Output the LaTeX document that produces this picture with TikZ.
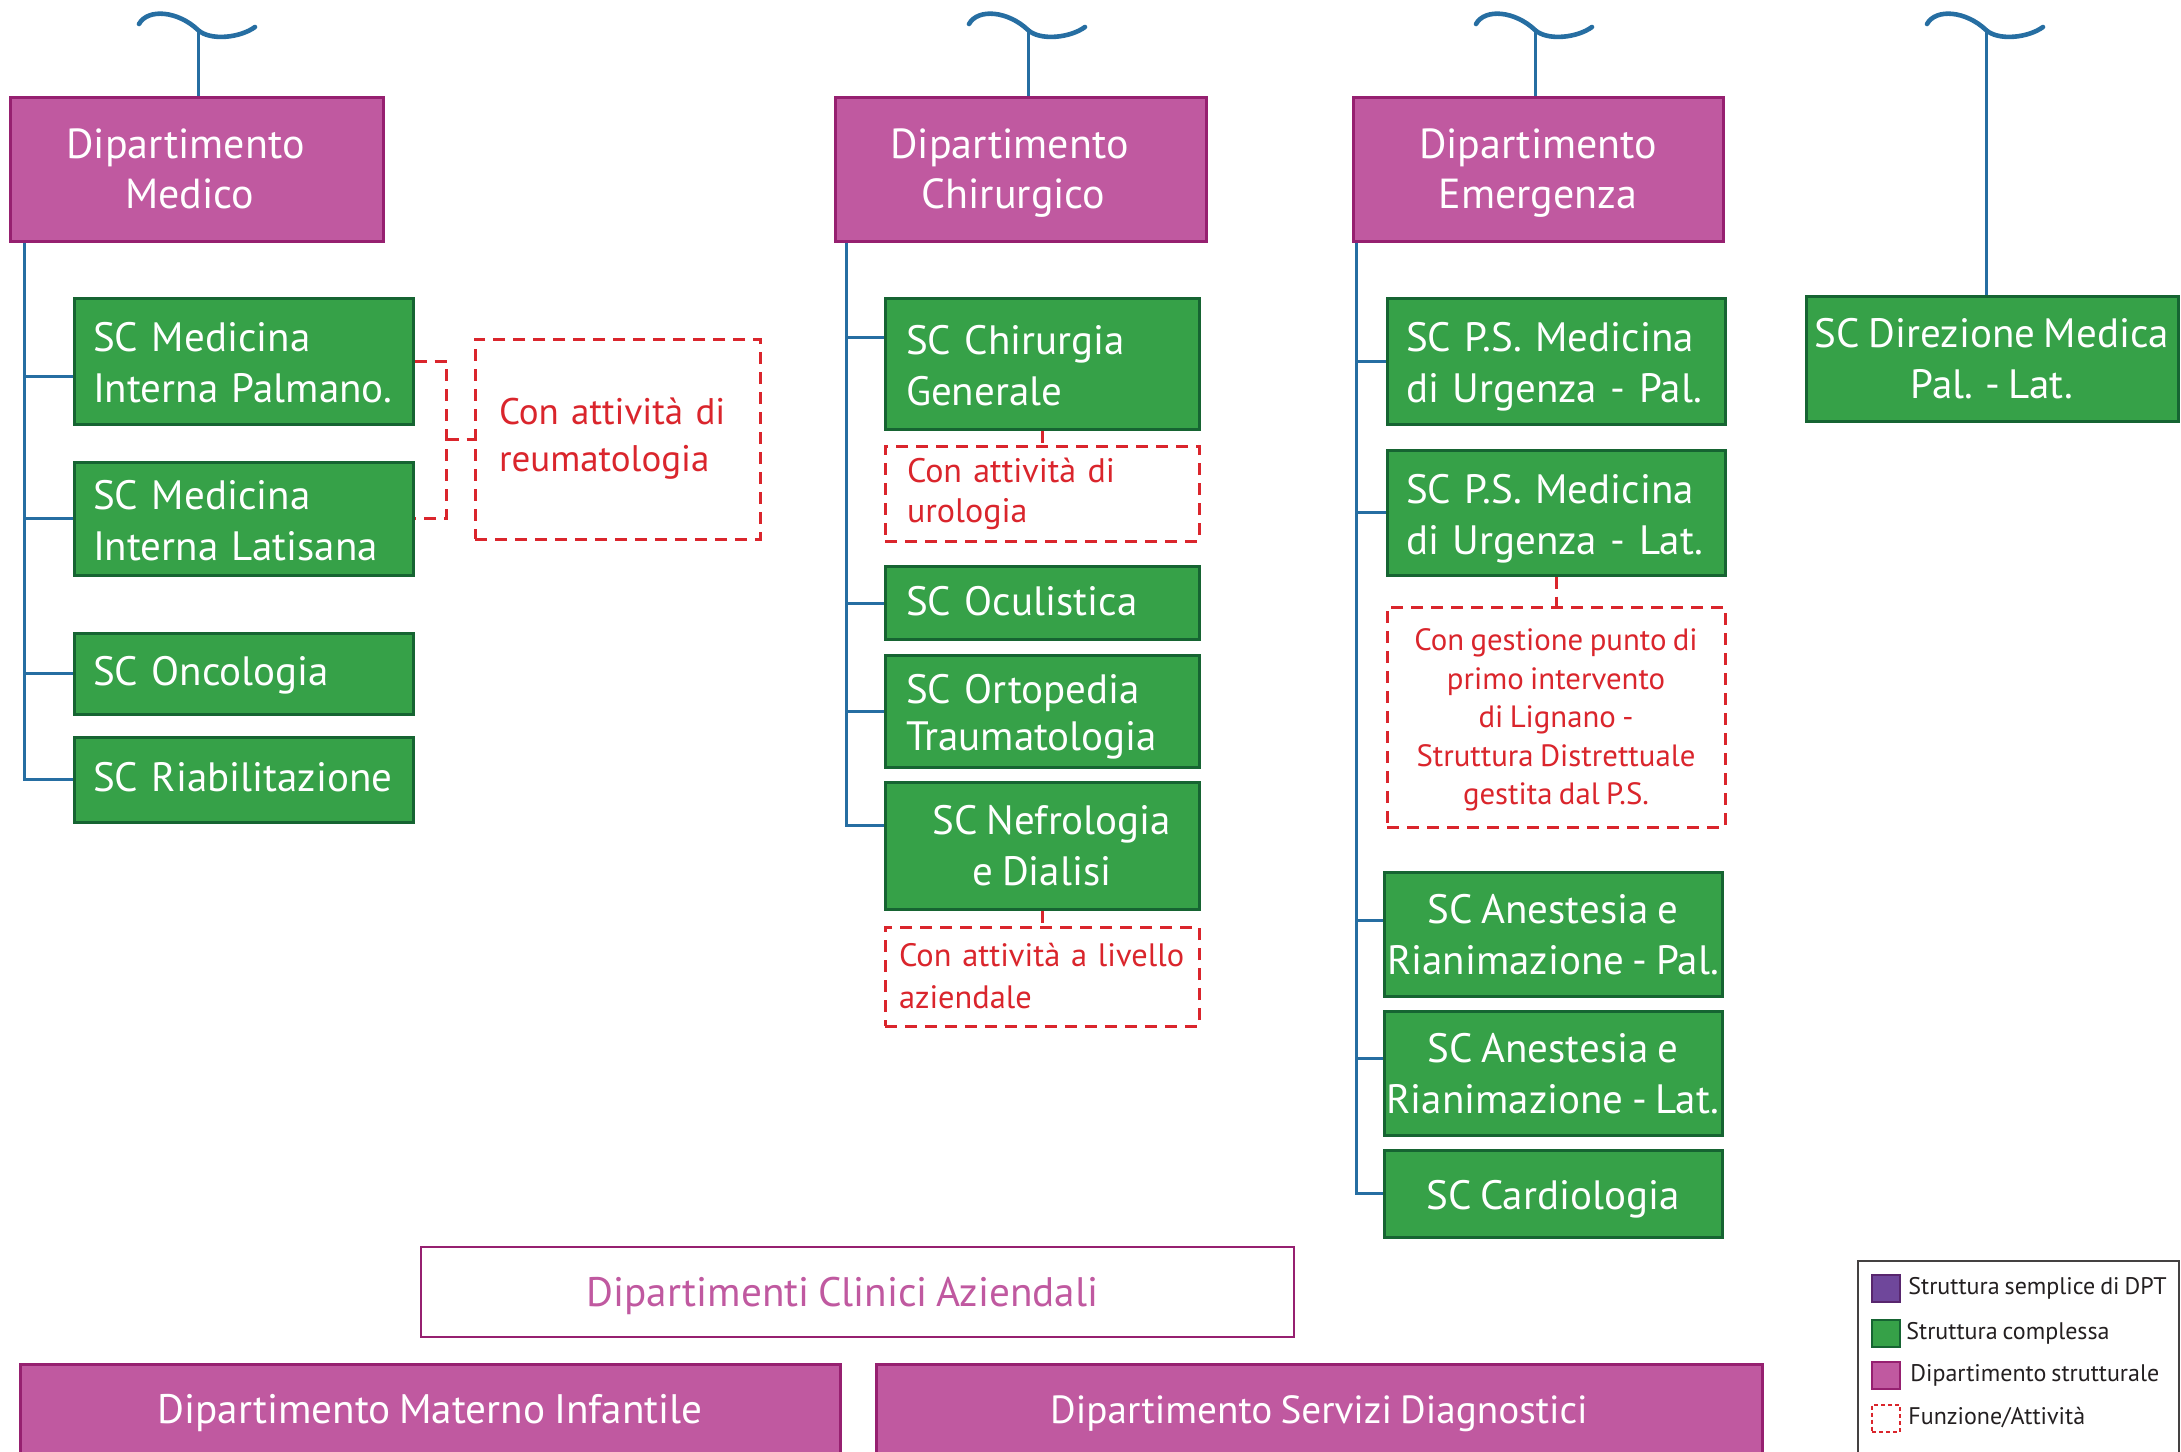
\documentclass[tikz,border=0pt]{standalone}
\usepackage{fontspec}
\setmainfont{PT Sans}[WordSpace=0.78]
\usetikzlibrary{calc}
\definecolor{deptfill}{RGB}{192,89,160}
\definecolor{deptdraw}{RGB}{150,32,112}
\definecolor{scfill}{RGB}{54,161,72}
\definecolor{scdraw}{RGB}{22,100,50}
\definecolor{connblue}{RGB}{38,110,162}
\definecolor{funred}{RGB}{218,37,44}
\definecolor{sempfill}{RGB}{111,71,155}
\definecolor{sempdraw}{RGB}{88,38,110}
\definecolor{legtext}{RGB}{35,31,32}
\hyphenpenalty=10000
\exhyphenpenalty=10000
\begin{document}
\begin{tikzpicture}[x=0.5pt,y=-0.5pt,
  topstrut/.style={execute at begin node={\rule{0pt}{#1}}, text depth=0pt},
  boxstrut/.style={execute at begin node={\rule{0pt}{#1}}, execute at end node={\rule[-5pt]{0pt}{5pt}}},
  twolines/.style={boxstrut=21pt},
  oneline/.style={boxstrut=17pt},
  dept/.style={draw=deptdraw, fill=deptfill, line width=1.5pt, text=white,
    font=\fontsize{21}{25}\selectfont, align=center, inner sep=0pt},
  scbox/.style={draw=scdraw, fill=scfill, line width=1.5pt, text=white,
    font=\fontsize{20.5}{25.5}\selectfont, inner ysep=0pt},
  scLa/.style={scbox, minimum width=169.5pt, text width=150.5pt, inner xsep=9.5pt, align=left},
  scLb/.style={scbox, minimum width=157pt, text width=136pt, inner xsep=10.5pt, align=left},
  scCb/.style={scbox, topstrut=16pt, minimum width=157pt, inner xsep=0pt, align=center},
  scLc/.style={scbox, minimum width=169pt, text width=150pt, inner xsep=9.5pt, align=left},
  scCc/.style={scbox, topstrut=16pt, minimum width=169pt, inner xsep=0pt, align=center},
  funbox/.style={draw=funred, dash pattern=on 6pt off 4pt, line width=1.5pt, text=funred, inner ysep=0pt},
  link/.style={draw=connblue, line width=1.5pt},
  funlink/.style={draw=funred, line width=1.5pt, dash pattern=on 6pt off 4pt},
  tildeline/.style={draw=connblue, line width=2.3pt, line cap=round},
  swatch/.style={minimum width=14pt, minimum height=13.5pt, inner sep=0pt, line width=1pt},
  legtxt/.style={anchor=west, text=legtext, font=\fontsize{12}{14}\selectfont, inner sep=0pt}
]
\useasboundingbox (0,0) rectangle (2181,1452);
\clip (0,0) rectangle (2181,1452);
\fill[white] (0,0) rectangle (2181,1452);

% tildes
\foreach \cx/\nm in {198/ta,1028/tb,1535/tc,1986/td}{
  \draw[tildeline] (\cx-59,24) .. controls (\cx-50,8) and (\cx-20,11) .. (\cx,30)
     .. controls (\cx+12,41) and (\cx+42,38) .. (\cx+57,27);
  \coordinate (\nm) at (\cx,30);
}

% departments
\node[dept, topstrut=15pt, minimum width=186.5pt, minimum height=72pt] (med) at (196.5,169)
  {Dipartimento\hspace*{11pt}\\Medico\hspace*{7pt}};
\node[dept, topstrut=15pt, minimum width=185.5pt, minimum height=72pt] (chi) at (1020.5,169)
  {Dipartimento\hspace*{11pt}\\Chirurgico\hspace*{7pt}};
\node[dept, topstrut=15pt, minimum width=185pt, minimum height=72pt] (eme) at (1538,169) {Dipartimento\\Emergenza};

% column 1
\node[scLa, twolines, minimum height=63pt] (pal) at (243.5,361) {SC Medicina\\Interna Palmano.};
\node[scLa, twolines, minimum height=56.5pt] (lat) at (243.5,518.5) {SC Medicina\\Interna Latisana};
\node[scLa, oneline, minimum height=40.5pt] (onc) at (243.5,673.5) {SC Oncologia};
\node[scLa, oneline, minimum height=42.5pt] (ria) at (243.5,779.5) {SC Riabilitazione};
\node[funbox, minimum width=142.5pt, minimum height=100pt, text width=118.5pt, inner xsep=12pt, align=left,
  font=\fontsize{18.5}{23.5}\selectfont] (reu) at (617.5,439) {Con attività di\\reumatologia};

% column 2
\node[scLb, twolines, minimum height=65.5pt] (gen) at (1042,363.5) {SC Chirurgia\\Generale};
\node[funbox, minimum width=157pt, minimum height=47.5pt, text width=135pt, inner xsep=11pt, align=left,
  font=\fontsize{17}{20}\selectfont] (uro) at (1042,493.5) {Con attività di\\urologia};
\node[scLb, oneline, minimum height=36.25pt] (ocu) at (1042,603) {SC Oculistica};
\node[scLb, twolines, minimum height=56pt, font=\fontsize{20.5}{23.5}\selectfont] (ort) at (1042,711)
  {SC Ortopedia\\Traumatologia};
\node[scCb, minimum height=63.5pt] (nef) at (1042,845.5) {\hspace*{10pt}SC Nefrologia\\e Dialisi};
\node[funbox, minimum width=157pt, minimum height=49.5pt, text width=143pt, inner xsep=7pt, align=left,
  font=\fontsize{16.2}{21}\selectfont] (azi) at (1042,976.5) {\mbox{Con attività a livello}\\aziendale};

% column 3
\node[scLc, twolines, minimum height=63pt] (psp) at (1556,361) {SC P.S. Medicina\\di Urgenza - Pal.};
\node[scLc, twolines, minimum height=62.5pt] (psl) at (1556,512.5) {SC P.S. Medicina\\di Urgenza - Lat.};
\node[funbox, minimum width=169pt, minimum height=110pt, inner xsep=0pt, align=center, text depth=0pt,
  font=\fontsize{15.4}{19.25}\selectfont] (lig) at (1556,717)
  {Con gestione punto di\\primo intervento\\di Lignano -\\Struttura Distrettuale\\gestita dal P.S.};
\node[scCc, minimum height=62pt] (anp) at (1553,934) {SC Anestesia e\\Rianimazione - Pal.};
\node[scCc, minimum height=62pt] (anl) at (1553,1073) {SC Anestesia e\\Rianimazione - Lat.};
\node[scCc, minimum height=43.5pt] (car) at (1553,1193.5) {SC Cardiologia};

% direzione
\node[scbox, topstrut=16pt, minimum width=186pt, minimum height=62.5pt, inner xsep=0pt, align=center]
  (dir) at (1992,358.5) {SC Direzione Medica\\Pal. - Lat.};

% bottom
\node[draw=deptdraw, fill=white, line width=1.4pt, text=deptfill, minimum width=436.5pt, minimum height=45pt,
  font=\fontsize{20.6}{24}\selectfont, text height=16pt, text depth=2pt] (clin) at (857.5,1292)
  {Dipartimenti Clinici Aziendali\hspace*{15pt}};
\node[dept, minimum width=410pt, minimum height=46pt, font=\fontsize{20.6}{24}\selectfont,
  text height=15.5pt, text depth=2.5pt] (mat) at (430,1410) {Dipartimento Materno Infantile};
\node[dept, minimum width=443pt, minimum height=46pt, font=\fontsize{19.6}{24}\selectfont,
  text height=15.5pt, text depth=2.5pt] (ser) at (1319,1410) {Dipartimento Servizi Diagnostici};

% legend
\node[draw=legtext!85, line width=0.8pt, minimum width=160.5pt, minimum height=104.5pt, inner sep=0pt]
  (leg) at (2018.5,1365.5) {};
\node[swatch, draw=sempdraw, fill=sempfill] (sw1) at (1886,1288) {};
\node[swatch, draw=scdraw, fill=scfill] (sw2) at (1886,1333) {};
\node[swatch, draw=deptdraw, fill=deptfill] (sw3) at (1886,1375) {};
\node[swatch, draw=funred, dash pattern=on 2pt off 1.5pt] (sw4) at (1886,1418) {};
\node[legtxt] (lb1) at (1908,1288) {Struttura semplice di DPT};
\node[legtxt] (lb2) at (1906,1333) {Struttura complessa};
\node[legtxt] (lb3) at (1910,1375) {Dipartimento strutturale};
\node[legtxt] (lb4) at (1908,1418) {Funzione/Attività};

% tilde to departments
\draw[link] (ta) -- (ta |- med.north);
\draw[link] (tb) -- (tb |- chi.north);
\draw[link] (tc) -- (tc |- eme.north);
\draw[link] (td) -- (td |- dir.north);

% column 1 connectors
\coordinate (m0) at ($(med.south west)+(15.5,0)$);
\coordinate (palb) at ($(pal.west)+(0,15)$);
\draw[link] (m0) |- (ria.west);
\draw[link] (m0 |- palb) -- (palb);
\draw[link] (m0 |- lat.west) -- (lat.west);
\draw[link] (m0 |- onc.west) -- (onc.west);

% column 2 connectors
\coordinate (c0) at ($(chi.south west)+(13,0)$);
\coordinate (genb) at ($(gen.west)+(0,-26.5)$);
\coordinate (nefb) at ($(nef.west)+(0,-20.5)$);
\draw[link] (c0) |- (nefb);
\draw[link] (c0 |- genb) -- (genb);
\draw[link] (c0 |- ocu.west) -- (ocu.west);
\draw[link] (c0 |- ort.west) -- (ort.west);

% column 3 connectors
\coordinate (e0) at ($(eme.south west)+(5,0)$);
\coordinate (anpb) at ($(anp.west)+(0,-14)$);
\coordinate (anlb) at ($(anl.west)+(0,-15)$);
\draw[link] (e0) |- (car.west);
\draw[link] (e0 |- psp.west) -- (psp.west);
\draw[link] (e0 |- psl.west) -- (psl.west);
\draw[link] (e0 |- anpb) -- (anpb);
\draw[link] (e0 |- anlb) -- (anlb);

% function links
\draw[funlink] (gen.south) -- (uro.north);
\draw[funlink] (nef.south) -- (azi.north);
\draw[funlink] (psl.south) -- (lig.north);
\coordinate (brk) at ($(pal.east)!0.5!(lat.east)+(32,0)$);
\draw[funlink] (pal.east) -| (brk) |- (lat.east);
\draw[funlink] (brk) -- (brk -| reu.west);
\end{tikzpicture}
\end{document}
